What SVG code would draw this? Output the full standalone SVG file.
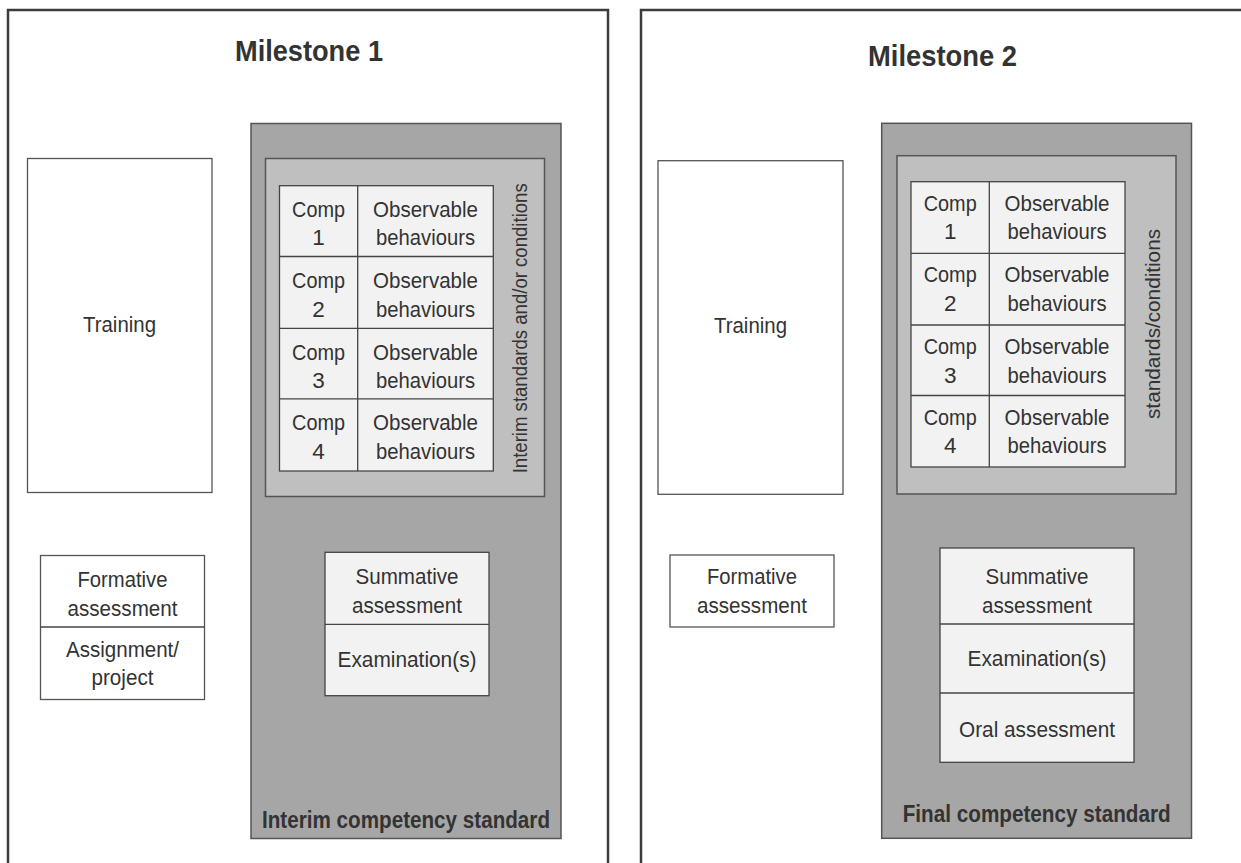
<svg xmlns="http://www.w3.org/2000/svg" width="1241" height="863" viewBox="0 0 1241 863">
<style>
.bg{fill:#ffffff}
.frame{fill:#ffffff;stroke:#3c3c3c;stroke-width:2.5}
.box{fill:#ffffff;stroke:#555555;stroke-width:1.3}
.std{fill:#a6a6a6;stroke:#555555;stroke-width:1.5}
.inner{fill:#bfbfbf;stroke:#555555;stroke-width:1.5}
.cell{fill:#f2f2f2;stroke:#444444;stroke-width:1.3}
.div{stroke:#444444;stroke-width:1.3;fill:none}
text{font-family:"Liberation Sans",Arial,sans-serif;fill:#333333;text-anchor:middle}
.t{font-size:22.5px}
.v{font-size:20px}
.title{font-size:29px;font-weight:bold}
.lbl{font-size:23px;font-weight:bold}
</style>
<rect class="bg" x="0" y="0" width="1241" height="863"/>

<g id="milestone1">
  <rect class="frame" x="8" y="10" width="600" height="880"/>
  <text class="title" x="309" y="61" textLength="148" lengthAdjust="spacingAndGlyphs">Milestone 1</text>
</g>
<g id="milestone2">
  <rect class="frame" x="641" y="10" width="640" height="880"/>
  <text class="title" x="942.5" y="66" textLength="149" lengthAdjust="spacingAndGlyphs">Milestone 2</text>
</g>

<g id="training1">
  <rect class="box" x="27.5" y="158.5" width="184.5" height="334"/>
  <text class="t" x="119.5" y="331.5" textLength="73" lengthAdjust="spacingAndGlyphs">Training</text>
</g>
<g id="formative1">
  <rect class="box" x="40.5" y="555.5" width="164" height="144"/>
  <line class="div" x1="40.5" y1="627" x2="204.5" y2="627"/>
  <text class="t" x="122.5" y="586.5" textLength="90" lengthAdjust="spacingAndGlyphs">Formative</text>
  <text class="t" x="122.5" y="616" textLength="110" lengthAdjust="spacingAndGlyphs">assessment</text>
  <text class="t" x="122.5" y="656.5" textLength="113" lengthAdjust="spacingAndGlyphs">Assignment/</text>
  <text class="t" x="122.5" y="685" textLength="62" lengthAdjust="spacingAndGlyphs">project</text>
</g>

<g id="standard1">
  <rect class="std" x="251" y="123.5" width="310" height="715"/>
  <text class="lbl" x="406" y="827.5" textLength="288" lengthAdjust="spacingAndGlyphs">Interim competency standard</text>
</g>
<g id="conditions1">
  <rect class="inner" x="265.5" y="158.5" width="279" height="338"/>
  <text class="v" transform="translate(527,328.3) rotate(-90)" x="0" y="0" textLength="290" lengthAdjust="spacingAndGlyphs">Interim standards and/or conditions</text>
</g>
<g id="table1">
  <rect class="cell" x="279.5" y="185.7" width="213.8" height="285.3"/>
  <line class="div" x1="357.7" y1="185.7" x2="357.7" y2="471"/>
  <line class="div" x1="279.5" y1="256.5" x2="493.3" y2="256.5"/>
  <line class="div" x1="279.5" y1="328.3" x2="493.3" y2="328.3"/>
  <line class="div" x1="279.5" y1="398.8" x2="493.3" y2="398.8"/>
  <text class="t" x="318.6" y="216.5" textLength="53" lengthAdjust="spacingAndGlyphs">Comp</text>
  <text class="t" x="318.6" y="245">1</text>
  <text class="t" x="425.5" y="216.5" textLength="105" lengthAdjust="spacingAndGlyphs">Observable</text>
  <text class="t" x="425.5" y="245" textLength="99" lengthAdjust="spacingAndGlyphs">behaviours</text>
  <text class="t" x="318.6" y="288" textLength="53" lengthAdjust="spacingAndGlyphs">Comp</text>
  <text class="t" x="318.6" y="316.5">2</text>
  <text class="t" x="425.5" y="288" textLength="105" lengthAdjust="spacingAndGlyphs">Observable</text>
  <text class="t" x="425.5" y="316.5" textLength="99" lengthAdjust="spacingAndGlyphs">behaviours</text>
  <text class="t" x="318.6" y="359.5" textLength="53" lengthAdjust="spacingAndGlyphs">Comp</text>
  <text class="t" x="318.6" y="388">3</text>
  <text class="t" x="425.5" y="359.5" textLength="105" lengthAdjust="spacingAndGlyphs">Observable</text>
  <text class="t" x="425.5" y="388" textLength="99" lengthAdjust="spacingAndGlyphs">behaviours</text>
  <text class="t" x="318.6" y="430" textLength="53" lengthAdjust="spacingAndGlyphs">Comp</text>
  <text class="t" x="318.6" y="458.5">4</text>
  <text class="t" x="425.5" y="430" textLength="105" lengthAdjust="spacingAndGlyphs">Observable</text>
  <text class="t" x="425.5" y="458.5" textLength="99" lengthAdjust="spacingAndGlyphs">behaviours</text>
</g>
<g id="summative1">
  <rect class="cell" x="325" y="552.3" width="164" height="143.4"/>
  <line class="div" x1="325" y1="624.3" x2="489" y2="624.3"/>
  <text class="t" x="407" y="584" textLength="103" lengthAdjust="spacingAndGlyphs">Summative</text>
  <text class="t" x="407" y="613.3" textLength="110" lengthAdjust="spacingAndGlyphs">assessment</text>
  <text class="t" x="407" y="666.5" textLength="139" lengthAdjust="spacingAndGlyphs">Examination(s)</text>
</g>

<g id="training2">
  <rect class="box" x="658" y="160.7" width="185" height="333.6"/>
  <text class="t" x="750.5" y="333.3" textLength="73" lengthAdjust="spacingAndGlyphs">Training</text>
</g>
<g id="formative2">
  <rect class="box" x="670" y="555" width="164" height="72"/>
  <text class="t" x="752" y="584" textLength="90" lengthAdjust="spacingAndGlyphs">Formative</text>
  <text class="t" x="752" y="613.3" textLength="110" lengthAdjust="spacingAndGlyphs">assessment</text>
</g>

<g id="standard2">
  <rect class="std" x="881.7" y="123.3" width="309.8" height="715"/>
  <text class="lbl" x="1036.7" y="821.7" textLength="268" lengthAdjust="spacingAndGlyphs">Final competency standard</text>
</g>
<g id="conditions2">
  <rect class="inner" x="897" y="155.7" width="279" height="338.3"/>
  <text class="v" transform="translate(1160,324) rotate(-90)" x="0" y="0" textLength="190" lengthAdjust="spacingAndGlyphs">standards/conditions</text>
</g>
<g id="table2">
  <rect class="cell" x="911" y="181.7" width="214" height="285.3"/>
  <line class="div" x1="989.3" y1="181.7" x2="989.3" y2="467"/>
  <line class="div" x1="911" y1="253.3" x2="1125" y2="253.3"/>
  <line class="div" x1="911" y1="325" x2="1125" y2="325"/>
  <line class="div" x1="911" y1="395.5" x2="1125" y2="395.5"/>
  <text class="t" x="950.2" y="210.7" textLength="53" lengthAdjust="spacingAndGlyphs">Comp</text>
  <text class="t" x="950.2" y="239.3">1</text>
  <text class="t" x="1057" y="210.7" textLength="105" lengthAdjust="spacingAndGlyphs">Observable</text>
  <text class="t" x="1057" y="239.3" textLength="99" lengthAdjust="spacingAndGlyphs">behaviours</text>
  <text class="t" x="950.2" y="282.3" textLength="53" lengthAdjust="spacingAndGlyphs">Comp</text>
  <text class="t" x="950.2" y="311">2</text>
  <text class="t" x="1057" y="282.3" textLength="105" lengthAdjust="spacingAndGlyphs">Observable</text>
  <text class="t" x="1057" y="311" textLength="99" lengthAdjust="spacingAndGlyphs">behaviours</text>
  <text class="t" x="950.2" y="354" textLength="53" lengthAdjust="spacingAndGlyphs">Comp</text>
  <text class="t" x="950.2" y="382.5">3</text>
  <text class="t" x="1057" y="354" textLength="105" lengthAdjust="spacingAndGlyphs">Observable</text>
  <text class="t" x="1057" y="382.5" textLength="99" lengthAdjust="spacingAndGlyphs">behaviours</text>
  <text class="t" x="950.2" y="424.5" textLength="53" lengthAdjust="spacingAndGlyphs">Comp</text>
  <text class="t" x="950.2" y="453">4</text>
  <text class="t" x="1057" y="424.5" textLength="105" lengthAdjust="spacingAndGlyphs">Observable</text>
  <text class="t" x="1057" y="453" textLength="99" lengthAdjust="spacingAndGlyphs">behaviours</text>
</g>
<g id="summative2">
  <rect class="cell" x="940" y="548" width="194" height="214.3"/>
  <line class="div" x1="940" y1="624" x2="1134" y2="624"/>
  <line class="div" x1="940" y1="693" x2="1134" y2="693"/>
  <text class="t" x="1037" y="584" textLength="103" lengthAdjust="spacingAndGlyphs">Summative</text>
  <text class="t" x="1037" y="613.3" textLength="110" lengthAdjust="spacingAndGlyphs">assessment</text>
  <text class="t" x="1037" y="665.7" textLength="139" lengthAdjust="spacingAndGlyphs">Examination(s)</text>
  <text class="t" x="1037" y="737.3" textLength="156" lengthAdjust="spacingAndGlyphs">Oral assessment</text>
</g>

<g id="connectors"></g>
</svg>
